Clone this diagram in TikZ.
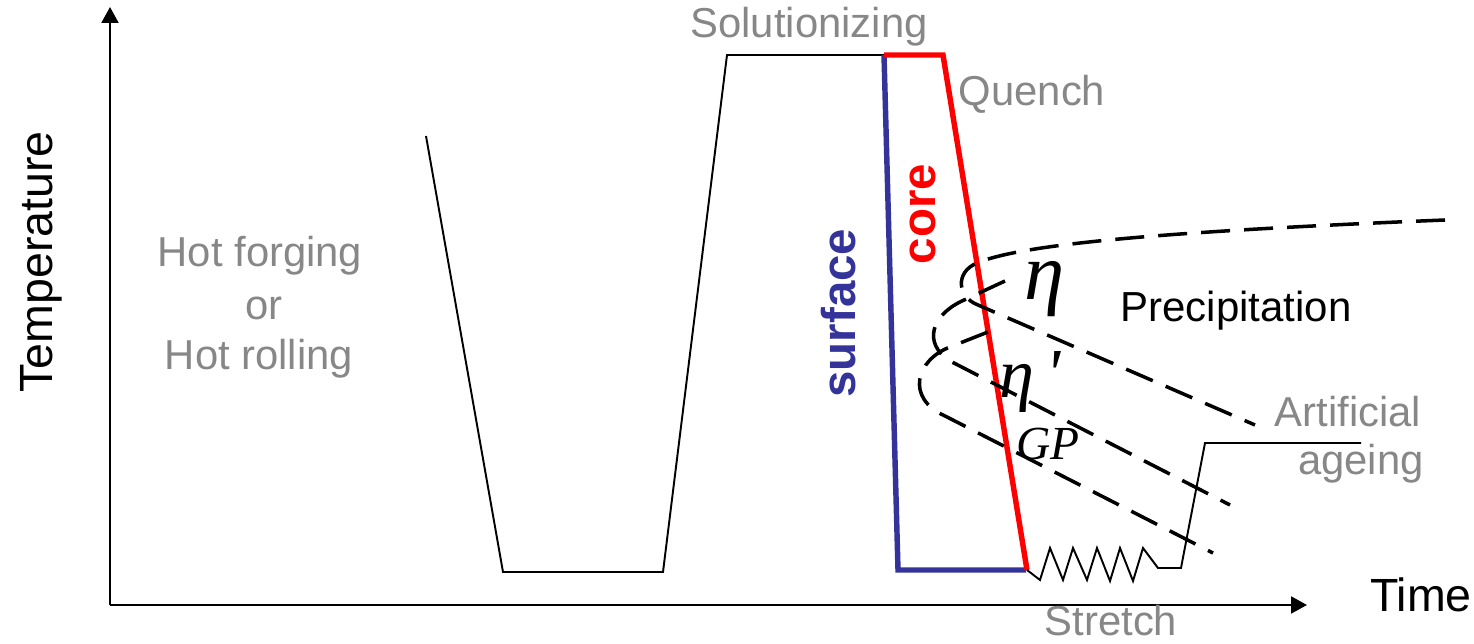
\documentclass[tikz,border=0pt]{standalone}
\usepackage{fontspec}
\setmainfont{Liberation Sans}
\newfontfamily\greekserif{Liberation Serif}
\usetikzlibrary{arrows.meta}
\definecolor{labgray}{HTML}{878787}
\definecolor{surfblue}{HTML}{333399}
\definecolor{corered}{HTML}{FF0000}
\begin{document}
\begin{tikzpicture}[x=0.02cm,y=-0.02cm,
  axisline/.style={line width=1.4pt,-{Triangle[length=9pt,width=9.5pt]}},
  route/.style={line width=1.1pt,line join=miter},
  surfline/.style={draw=surfblue,line width=3.1pt,line join=miter},
  coreline/.style={draw=corered,line width=3.1pt,line join=miter},
  ccurve/.style={line width=2pt,dash pattern=on 16.5pt off 8pt},
  graylab/.style={text=labgray,font=\fontsize{23.8}{28}\selectfont,inner sep=0pt,anchor=base},
  axislab/.style={font=\fontsize{26.5}{30}\selectfont,inner sep=0pt,anchor=base},
  boldlab/.style={font=\fontsize{27}{30}\selectfont\bfseries,inner sep=0pt,anchor=base,rotate=90},
  greeklab/.style={font=\greekserif\itshape,inner sep=0pt,anchor=base}]
\useasboundingbox (0,0) rectangle (1474,644);

% axes
\coordinate (O) at (110,605);
\coordinate (ytop) at (110,7);
\coordinate (xend) at (1307,605);
\draw[axisline] (O) -- (ytop);
\draw[axisline] (O) -- (xend);

% thermo-mechanical route
\coordinate (r0) at (426,136);
\coordinate (r1) at (503,572);
\coordinate (r2) at (663,572);
\coordinate (r3) at (727,55);
\coordinate (r4) at (884,55);
\draw[route] (r0) -- (r1) -- (r2) -- (r3) -- (r4);

% quench: surface and core
\coordinate (s1) at (898,570);
\coordinate (s2) at (1026,570);
\coordinate (c1) at (943,55);
\coordinate (c2) at (1027,570);
\draw[surfline] (r4) -- (s1) -- (s2);
\draw[coreline] (r4) -- (c1) -- (c2);

% stretch zigzag and artificial ageing
\coordinate (a1) at (1181,568);
\coordinate (a2) at (1205,443);
\coordinate (a3) at (1361,443);
\draw[route] (c2) -- (1040,580) -- (1050,548) -- (1063,580) -- (1073,548)
  -- (1087,580) -- (1097,548) -- (1110,581) -- (1120,548) -- (1133,581) -- (1143,548)
  -- (1158,568) -- (a1) -- (a2) -- (a3);

% C-curves
\draw[ccurve] (1445,220) .. controls (1150,232) and (1020,245) .. (977,263)
  .. controls (955,272) and (957,297) .. (978,305) -- (1255,425);
\draw[ccurve] (1005,281) -- (962,301) .. controls (932,315) and (922,343) .. (950,361) -- (1230,505);
\draw[ccurve] (988,332) -- (950,347) .. controls (916,360) and (905,398) .. (945,416) -- (1213,553);

% labels
\node[axislab,rotate=90] (temp) at (52,262) {Temperature};
\node[axislab] (time) at (1421,612) {Time};
\node[graylab] (hf1) at (260,267) {Hot forging};
\node[graylab] (hf2) at (264,320) {or};
\node[graylab] (hf3) at (259,370) {Hot rolling};
\node[graylab] (sol) at (809,38) {Solutionizing};
\node[graylab] (que) at (1032,106) {Quench};
\node[graylab] (art1) at (1348,427) {Artificial};
\node[graylab] (art2) at (1361,475) {ageing};
\node[graylab] (str) at (1111,636) {Stretch};
\node[boldlab,text=surfblue] (surf) at (855,313) {surface};
\node[boldlab,text=corered] (core) at (935,214) {core};
\node[axislab,font=\fontsize{23.9}{28}\selectfont] (prec) at (1236,322) {Precipitation};
\node[greeklab,font=\greekserif\itshape\fontsize{46}{50}\selectfont] (eta) at (1045,300) {η};
\node[greeklab,font=\greekserif\itshape\fontsize{40}{44}\selectfont] (etap) at (1030,398) {η\,'};
\node[greeklab,font=\greekserif\itshape\fontsize{27}{30}\selectfont] (gp) at (1048,460) {GP};
\end{tikzpicture}
\end{document}
